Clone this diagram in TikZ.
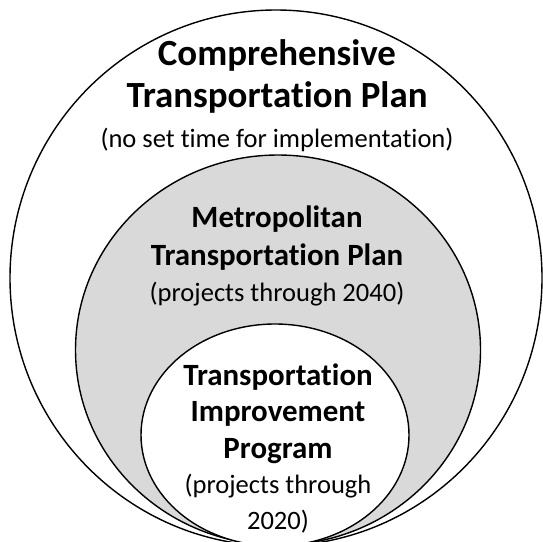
\documentclass[tikz,border=0pt]{standalone}
\usepackage{fontspec}
\setmainfont{Carlito}[Ligatures=NoCommon]
\definecolor{planfill}{RGB}{217,217,217}
\tikzset{
  title/.style={font=\bfseries\fontsize{21}{25}\selectfont, anchor=base},
  subtitle/.style={font=\bfseries\fontsize{17.6}{21}\selectfont, anchor=base},
  note/.style={font=\fontsize{15.1}{18}\selectfont, anchor=base}
}
\begin{document}
\begin{tikzpicture}[x=0.02cm, y=-0.02cm, thick]
    \useasboundingbox (0,0) rectangle (543,541);
    \clip (0,0) rectangle (543,541);

    % Draw the three plans
    \draw[fill=white] (276,278) ellipse [x radius=266, y radius=268];
    \draw[fill=planfill] (278,350) ellipse [x radius=202.5, y radius=195];
    \draw[fill=white] (275,435) ellipse [x radius=134, y radius=111];

    % outer labels
    \node[title] (ctp1) at (277,65) {Comprehensive};
    \node[title] (ctp2) at (277,107) {Transportation Plan};
    \node[note] (ctp3) at (277,147) {(no set time for implementation)};

    % middle labels
    \node[subtitle] (mtp1) at (277,227) {Metropolitan};
    \node[subtitle] (mtp2) at (277,265) {Transportation Plan};
    \node[note] (mtp3) at (277,301) {(projects through 2040)};

    % inner labels
    \node[subtitle] (tip1) at (278,385) {Transportation};
    \node[subtitle] (tip2) at (278,421) {Improvement};
    \node[subtitle] (tip3) at (278,458) {Program};
    \node[note] (tip4) at (278,493) {(projects through};
    \node[note] (tip5) at (278,529) {2020)};
  \end{tikzpicture}
\end{document}
